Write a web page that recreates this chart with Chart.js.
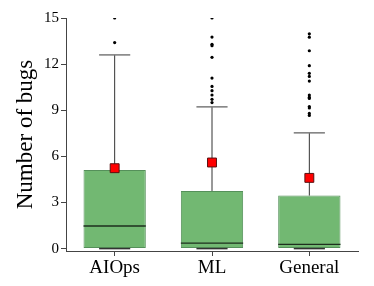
<!DOCTYPE html>
<html>
<head>
<meta charset="utf-8">
<script src="https://cdn.jsdelivr.net/npm/chart.js@4/dist/chart.umd.min.js"></script>
<style>
  html, body { margin: 0; padding: 0; background: #fff; }
  #wrap { width: 374px; height: 286px; }
</style>
</head>
<body>
<div id="wrap"><canvas id="c" width="374" height="286"></canvas></div>
<script>
// values
var categories = ['AIOps', 'ML', 'General'];
var q1 = [0, 0, 0];
var medians = [1.47, 0.35, 0.28];
var q3 = [5.12, 3.75, 3.45];
var whiskerLow = [0, 0, 0];
var whiskerHigh = [12.6, 9.22, 7.53];
var means = [5.23, 5.6, 4.6];
var outliersAIOps = [13.4, 15];
var outliersML = [15, 13.76, 13.29, 13.2, 12.44, 11.09, 10.55, 10.27, 9.99, 9.71, 9.5];
var outliersGeneral = [13.97, 13.75, 12.87, 11.9, 11.4, 11.2, 10.9, 9.99, 9.85, 9.77, 9.24, 9.15, 8.79, 8.66];
var yTicks = [0, 3, 6, 9, 12, 15];

var serif = '"Liberation Serif", "Times New Roman", serif';

var outlierPoints = [];
[outliersAIOps, outliersML, outliersGeneral].forEach(function (list, i) {
    list.forEach(function (v) {
        outlierPoints.push({ x: categories[i], y: v });
    });
});

// whiskers, caps and medians drawn right after the boxes
var whiskerPlugin = {
    id: 'whiskers',
    afterDatasetDraw: function (chart, args) {
        if (args.index !== 0) return;
        var ctx = chart.ctx;
        var x = chart.scales.x;
        var y = chart.scales.y;
        var bars = args.meta.data;
        ctx.save();
        for (var i = 0; i < categories.length; i++) {
            var cx = x.getPixelForValue(i);
            var half = bars[i].width / 2;
            var capHalf = half / 2;

            // upper whisker
            ctx.strokeStyle = '#333';
            ctx.lineWidth = 1;
            ctx.beginPath();
            ctx.moveTo(cx, y.getPixelForValue(q3[i]));
            ctx.lineTo(cx, y.getPixelForValue(whiskerHigh[i]));
            ctx.stroke();

            ctx.strokeStyle = '#7a7a7a';
            ctx.lineWidth = 1.5;
            ctx.beginPath();
            ctx.moveTo(cx - capHalf, y.getPixelForValue(whiskerHigh[i]));
            ctx.lineTo(cx + capHalf, y.getPixelForValue(whiskerHigh[i]));
            ctx.stroke();

            // lower whisker cap
            ctx.strokeStyle = '#333';
            ctx.beginPath();
            ctx.moveTo(cx - capHalf, y.getPixelForValue(whiskerLow[i]));
            ctx.lineTo(cx + capHalf, y.getPixelForValue(whiskerLow[i]));
            ctx.stroke();

            // median
            ctx.strokeStyle = '#1e2e1e';
            ctx.lineWidth = 1.3;
            ctx.beginPath();
            ctx.moveTo(cx - half, y.getPixelForValue(medians[i]));
            ctx.lineTo(cx + half, y.getPixelForValue(medians[i]));
            ctx.stroke();
        }
        ctx.restore();
    }
};

new Chart(document.getElementById('c'), {
    type: 'bar',
    data: {
        labels: categories,
        datasets: [{
            label: 'box',
            data: categories.map(function (c, i) { return [q1[i], q3[i]]; }),
            backgroundColor: '#72b872',
            borderColor: '#55905a',
            borderWidth: 1,
            borderSkipped: false,
            barPercentage: 0.64,
            categoryPercentage: 1,
            order: 3
        }, {
            type: 'line',
            label: 'outliers',
            data: outlierPoints,
            showLine: false,
            pointStyle: 'circle',
            pointRadius: 1.6,
            pointBackgroundColor: '#000',
            pointBorderWidth: 0,
            order: 2
        }, {
            type: 'line',
            label: 'mean',
            data: means,
            showLine: false,
            pointStyle: 'rect',
            pointRadius: 6.3,
            pointBackgroundColor: '#ff0000',
            pointBorderColor: '#5a1010',
            pointBorderWidth: 1,
            order: 1
        }]
    },
    options: {
        responsive: false,
        animation: false,
        devicePixelRatio: 1,
        layout: { padding: { left: 0, right: 16, top: 18, bottom: 0 } },
        plugins: {
            legend: { display: false },
            tooltip: { enabled: false }
        },
        scales: {
            x: {
                grid: {
                    display: true,
                    drawOnChartArea: false,
                    offset: false,
                    tickLength: 5,
                    color: '#444'
                },
                border: { display: true, color: '#444', width: 1 },
                ticks: {
                    color: '#000',
                    padding: 1,
                    font: { family: serif, size: 19 }
                },
                afterFit: function (scale) { scale.height = 35; }
            },
            y: {
                min: -0.156,
                max: 15,
                afterBuildTicks: function (scale) {
                    scale.ticks = yTicks.map(function (v) { return { value: v }; });
                },
                grid: {
                    display: true,
                    drawOnChartArea: false,
                    tickLength: 5,
                    color: '#444'
                },
                border: { display: true, color: '#444', width: 1 },
                ticks: {
                    color: '#000',
                    padding: 2,
                    font: { family: serif, size: 15 }
                },
                title: {
                    display: true,
                    text: 'Number of bugs',
                    color: '#000',
                    font: { family: serif, size: 23 },
                    padding: { top: 12, bottom: 0 }
                },
                afterFit: function (scale) { scale.width = 66; }
            }
        }
    },
    plugins: [whiskerPlugin]
});
</script>
</body>
</html>
